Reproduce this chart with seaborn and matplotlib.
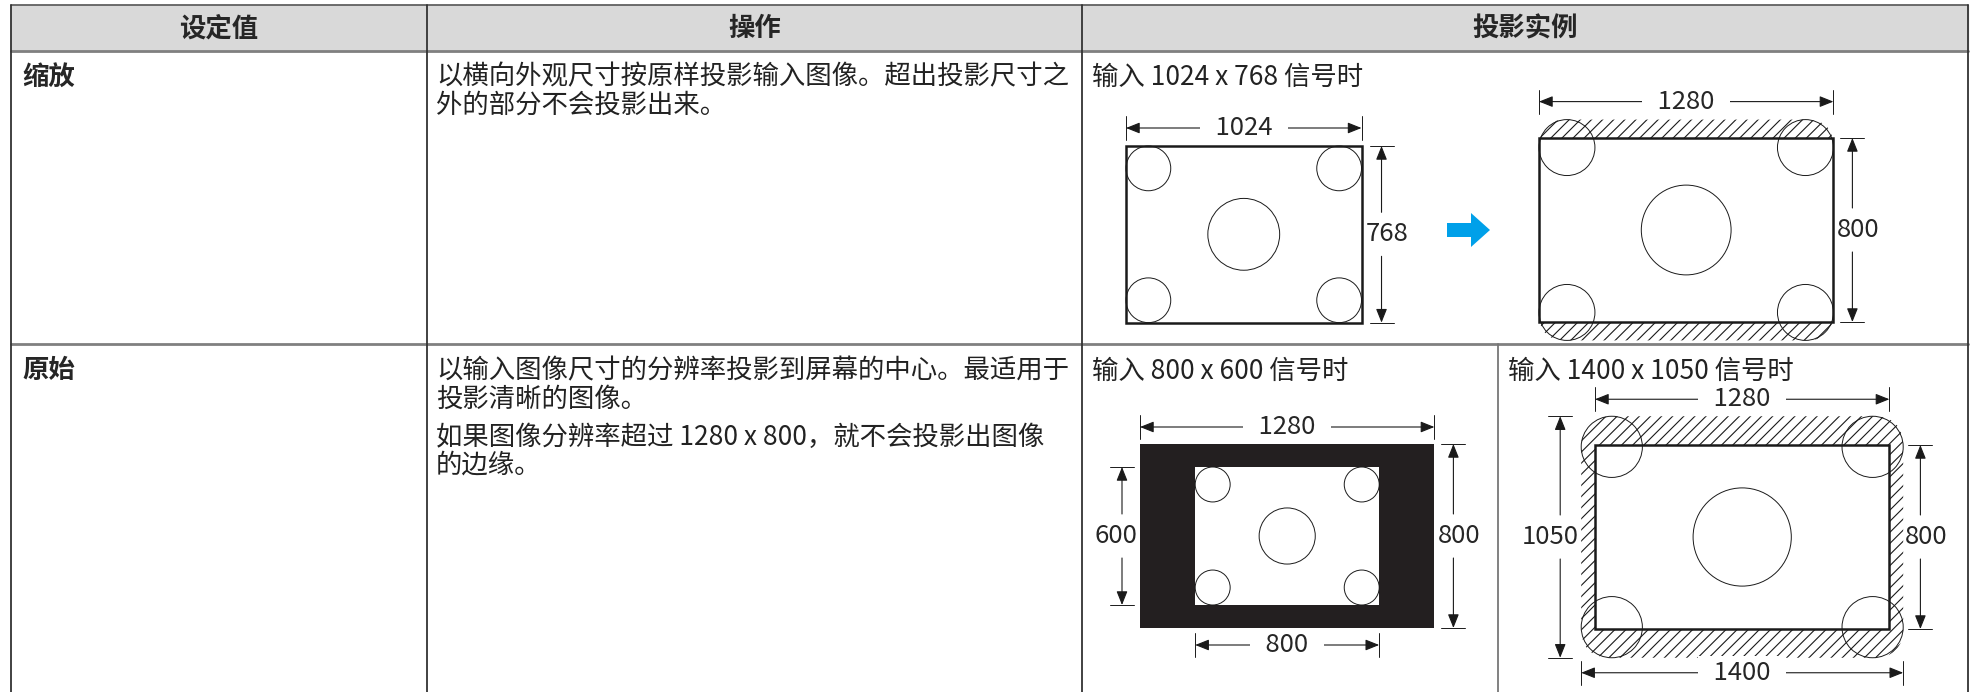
import matplotlib
matplotlib.use("Agg")
import matplotlib.pyplot as plt
from matplotlib.patches import Rectangle, Ellipse, FancyBboxPatch, FancyArrow
import seaborn as sns

# Table text
headers = ["设定值", "操作", "投影实例"]
settings = ["缩放", "原始"]
descriptions = [
    [["以横向外观尺寸按原样投影输入图像。超出投影尺寸之", "外的部分不会投影出来。"]],
    [["以输入图像尺寸的分辨率投影到屏幕的中心。最适用于", "投影清晰的图像。"],
     ["如果图像分辨率超过 1280 x 800，就不会投影出图像", "的边缘。"]],
]
caption = "输入 {} x {} 信号时"

# Resolutions (pixels)
screen = (1280, 800)
zoom_input = (1024, 768)
normal_inputs = [(800, 600), (1400, 1050)]

sns.set_theme(style="white")
plt.rcParams["font.family"] = ["Noto Sans CJK SC", "DejaVu Sans"]
plt.rcParams["hatch.linewidth"] = 0.8

S = 0.23  # drawing px per source pixel
LINE = "#1a1a1a"
TXT = "#222222"
BODY = 19
DIM = 18.5
ARROW = dict(color=LINE, lw=0.8, shrinkA=0, shrinkB=0, mutation_scale=12)
HEAD_ARGS = ",head_length=0.7,head_width=0.28"

fig = plt.figure(figsize=(19.73, 6.92), dpi=100)
ax = fig.add_axes([0, 0, 1, 1])
ax.set_xlim(0, 1973)
ax.set_ylim(692, 0)
ax.axis("off")


def test_image(x0, y0, w, h):
    # corner circles + big centre circle of the test pattern
    d = 0.19 * w
    for cx in (x0 + d / 2, x0 + w - d / 2):
        for cy in (y0 + d / 2, y0 + h - d / 2):
            ax.add_patch(Ellipse((cx, cy), d, d, fill=False, ec=LINE, lw=0.7, zorder=5))
    dc = 0.305 * w
    ax.add_patch(Ellipse((x0 + w / 2, y0 + h / 2), dc, dc, fill=False, ec=LINE, lw=0.7, zorder=5))


def dim_h(y, x0, x1, label):
    ax.annotate("", xy=(x0, y), xytext=(x1, y),
                arrowprops=dict(arrowstyle="<|-|>" + HEAD_ARGS, **ARROW))
    for x in (x0, x1):
        ax.plot([x, x], [y - 12, y + 12], color=LINE, lw=0.7)
    # extra spaces open a wider gap in the dimension line
    ax.text((x0 + x1) / 2, y, "  " + label + "  ", ha="center", va="center", fontsize=DIM,
            zorder=6, bbox=dict(facecolor="white", edgecolor="none", pad=3))


def dim_v(x, y0, y1, label, dx=0, gap=22):
    mid = (y0 + y1) / 2
    for end, start in ((y0, mid - gap), (y1, mid + gap)):
        ax.annotate("", xy=(x, end), xytext=(x, start),
                    arrowprops=dict(arrowstyle="-|>" + HEAD_ARGS, **ARROW))
    for y in (y0, y1):
        ax.plot([x - 12, x + 12], [y, y], color=LINE, lw=0.7)
    ax.text(x + dx, mid, label, ha="center", va="center", fontsize=DIM, zorder=6)


# ---- table frame ----
ax.add_patch(Rectangle((11, 5), 1957, 46, color="#d9d9d9", zorder=0))
ax.plot([11, 1968], [5, 5], color="#555555", lw=1.2)
for y in (51, 344):
    ax.plot([11, 1968], [y, y], color="#808080", lw=2.0)
for x in (11, 427, 1082, 1968):
    ax.plot([x, x], [5, 692], color="#333333", lw=1.3)
ax.plot([1498, 1498], [344, 692], color="#777777", lw=1.3)

for cx, h in zip((219, 755, 1525), headers):
    ax.text(cx, 29, h, ha="center", va="center", fontsize=19, fontweight="bold")

row_tops = [77, 371]
for top, name, paras in zip(row_tops, settings, descriptions):
    ax.text(22, top, name, ha="left", va="center", fontsize=19, fontweight="bold")
    y = top
    for para in paras:
        for line in para:
            ax.text(436, y, line, ha="left", va="center", fontsize=BODY, color=TXT)
            y += 28
        y += 10

# ---- 缩放: 1024 x 768 -> 1280 x 800 ----
ax.text(1092, row_tops[0], caption.format(*zoom_input), ha="left", va="center", fontsize=BODY, color=TXT)
iw, ih = zoom_input[0] * S, zoom_input[1] * S
x0, y0 = 1126, 146
ax.add_patch(Rectangle((x0, y0), iw, ih, facecolor="white", edgecolor=LINE, lw=1.8, zorder=3))
test_image(x0, y0, iw, ih)
dim_h(y0 - 18, x0, x0 + iw, str(zoom_input[0]))
dim_v(x0 + iw + 20, y0, y0 + ih, str(zoom_input[1]), dx=6)

ax.add_patch(FancyArrow(1447, 230, 43, 0, width=14, head_width=34, head_length=19,
                        length_includes_head=True, color="#00a0e9", lw=0))

sw, sh = screen[0] * S, screen[1] * S
zh = zoom_input[1] * screen[0] / zoom_input[0] * S  # zoomed image height
x0, y0 = 1539, 138
zy = y0 - (zh - sh) / 2
ax.add_patch(FancyBboxPatch((x0, zy), sw, zh, boxstyle="round,pad=0,rounding_size=27",
                            facecolor="none", edgecolor=LINE, lw=0, hatch="///", zorder=2))
ax.add_patch(Rectangle((x0, y0), sw, sh, facecolor="white", edgecolor=LINE, lw=1.8, zorder=3))
test_image(x0, zy, sw, zh)
dim_h(zy - 18, x0, x0 + sw, str(screen[0]))
dim_v(x0 + sw + 19, y0, y0 + sh, str(screen[1]), dx=6)

# ---- 原始: 800 x 600 ----
small = normal_inputs[0]
ax.text(1092, row_tops[1], caption.format(*small), ha="left", va="center", fontsize=BODY, color=TXT)
x0, y0 = 1140, 444
ax.add_patch(Rectangle((x0, y0), sw, sh, facecolor="#231f20", edgecolor="none", zorder=2))
iw, ih = small[0] * S, small[1] * S
ix, iy = x0 + (sw - iw) / 2, y0 + (sh - ih) / 2
ax.add_patch(Rectangle((ix, iy), iw, ih, facecolor="white", edgecolor="none", zorder=3))
test_image(ix, iy, iw, ih)
dim_h(y0 - 17, x0, x0 + sw, str(screen[0]))
dim_h(y0 + sh + 17, ix, ix + iw, str(small[0]))
dim_v(x0 - 18, iy, iy + ih, str(small[1]), dx=-6)
dim_v(x0 + sw + 19, y0, y0 + sh, str(screen[1]), dx=6)

# ---- 原始: 1400 x 1050 ----
big = normal_inputs[1]
ax.text(1508, row_tops[1], caption.format(*big), ha="left", va="center", fontsize=BODY, color=TXT)
x0, y0 = 1595, 445
bw, bh = big[0] * S, big[1] * S
bx, by = x0 - (bw - sw) / 2, y0 - (bh - sh) / 2
ax.add_patch(FancyBboxPatch((bx, by), bw, bh, boxstyle="round,pad=0,rounding_size=30",
                            facecolor="none", edgecolor=LINE, lw=0, hatch="///", zorder=2))
ax.add_patch(Rectangle((x0, y0), sw, sh, facecolor="white", edgecolor=LINE, lw=1.8, zorder=3))
test_image(bx, by, bw, bh)
dim_h(by - 17, x0, x0 + sw, str(screen[0]))
dim_h(by + bh + 15, bx, bx + bw, str(big[0]))
dim_v(bx - 21, by, by + bh, str(big[1]), dx=-10)
dim_v(x0 + sw + 31, y0, y0 + sh, str(screen[1]), dx=6)

fig.savefig("out.png", dpi=100)
